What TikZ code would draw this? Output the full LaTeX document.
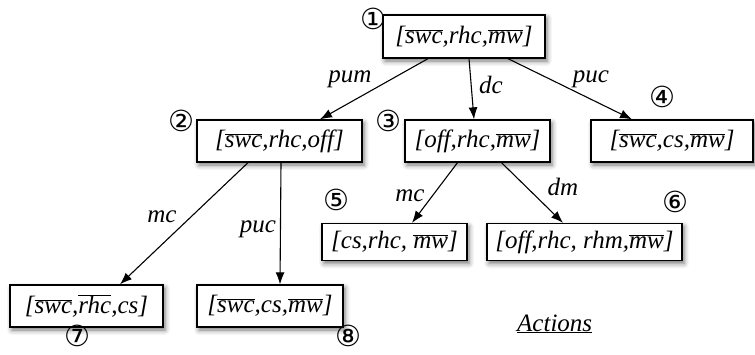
\documentclass[tikz,border=0pt]{standalone}
\usepackage{fontspec}
\setmainfont{Liberation Serif}
\newfontfamily\symfont{DejaVu Sans}
\usetikzlibrary{arrows.meta,calc,shadows.blur}
\newcommand{\ol}[1]{$\overline{\mbox{\itshape #1}}$}
\tikzset{
  state/.style={draw=black, line width=1.3pt, fill=white, inner sep=0pt,
    font=\fontsize{25}{30}\selectfont\itshape,
    blur shadow={shadow xshift=2pt, shadow yshift=-3pt, shadow blur radius=5pt, shadow opacity=55}},
  num/.style={font=\fontsize{29}{33}\selectfont\symfont, inner sep=0pt},
  lbl/.style={font=\fontsize{25}{30}\selectfont\itshape, inner sep=0pt},
  arr/.style={-{Latex[length=12pt,width=9pt]}, line width=1.1pt}
}
\begin{document}
\begin{tikzpicture}[x=1pt,y=-1pt]
\useasboundingbox (0,0) rectangle (755,354);
% states
\node[state, minimum width=162pt, minimum height=43pt] (n1) at (464,36.5) {[\ol{swc},rhc,\ol{mw}]};
\node[state, minimum width=165pt, minimum height=42pt] (n2) at (279.5,141) {[\ol{swc},rhc,off]};
\node[state, minimum width=145pt, minimum height=42pt] (n3) at (477.5,141) {[off,rhc,\ol{mw}]};
\node[state, minimum width=162pt, minimum height=42pt] (n4) at (672,141) {[\ol{swc},cs,\ol{mw}]};
\node[state, minimum width=145pt, minimum height=37pt] (n5) at (394.5,242) {[cs,rhc, \ol{mw}]};
\node[state, minimum width=195pt, minimum height=37pt] (n6) at (584.5,242) {[off,rhc, rhm,\ol{mw}]};
\node[state, minimum width=153pt, minimum height=42pt] (n7) at (86.5,306) {[\ol{swc},\ol{rhc},cs]};
\node[state, minimum width=146pt, minimum height=42pt] (n8) at (270,306) {[\ol{swc},cs,\ol{mw}]};
% numbers
\node[num] (c1) at (373,19) {①};
\node[num] (c2) at (181,121) {②};
\node[num] (c3) at (388,121) {③};
\node[num] (c4) at (662,97) {④};
\node[num] (c5) at (336,200) {⑤};
\node[num] (c6) at (675,202) {⑥};
\node[num] (c7) at (77,336) {⑦};
\node[num] (c8) at (348,336) {⑧};
% edges
\draw[arr] ($(n1.south)+(-36,0)$) -- ($(n2.north)+(40.5,0)$);
\draw[arr] ($(n1.south)+(5,0)$) -- ($(n3.north)+(-3.5,0)$);
\draw[arr] ($(n1.south)+(44,0)$) -- ($(n4.north)+(-40,0)$);
\draw[arr] ($(n2.south)+(-31.5,0)$) -- ($(n7.north)+(33.5,0)$);
\draw[arr] ($(n2.south)+(1.5,0)$) -- ($(n8.north)+(10,0)$);
\draw[arr] ($(n3.south)+(-20,0)$) -- ($(n5.north)+(17.5,0)$);
\draw[arr] ($(n3.south)+(24,0)$) -- ($(n6.north)+(-21.5,0)$);
% labels
\node[lbl] (l12) at (350,79) {pum};
\node[lbl] (l13) at (491,85) {dc};
\node[lbl] (l14) at (591,79) {puc};
\node[lbl] (l27) at (162,217) {mc};
\node[lbl] (l28) at (258,229) {puc};
\node[lbl] (l35) at (410,196) {mc};
\node[lbl] (l36) at (563,187) {dm};
\node[lbl, anchor=base west] (act) at (517,331) {\underline{Actions}};
\end{tikzpicture}
\end{document}
